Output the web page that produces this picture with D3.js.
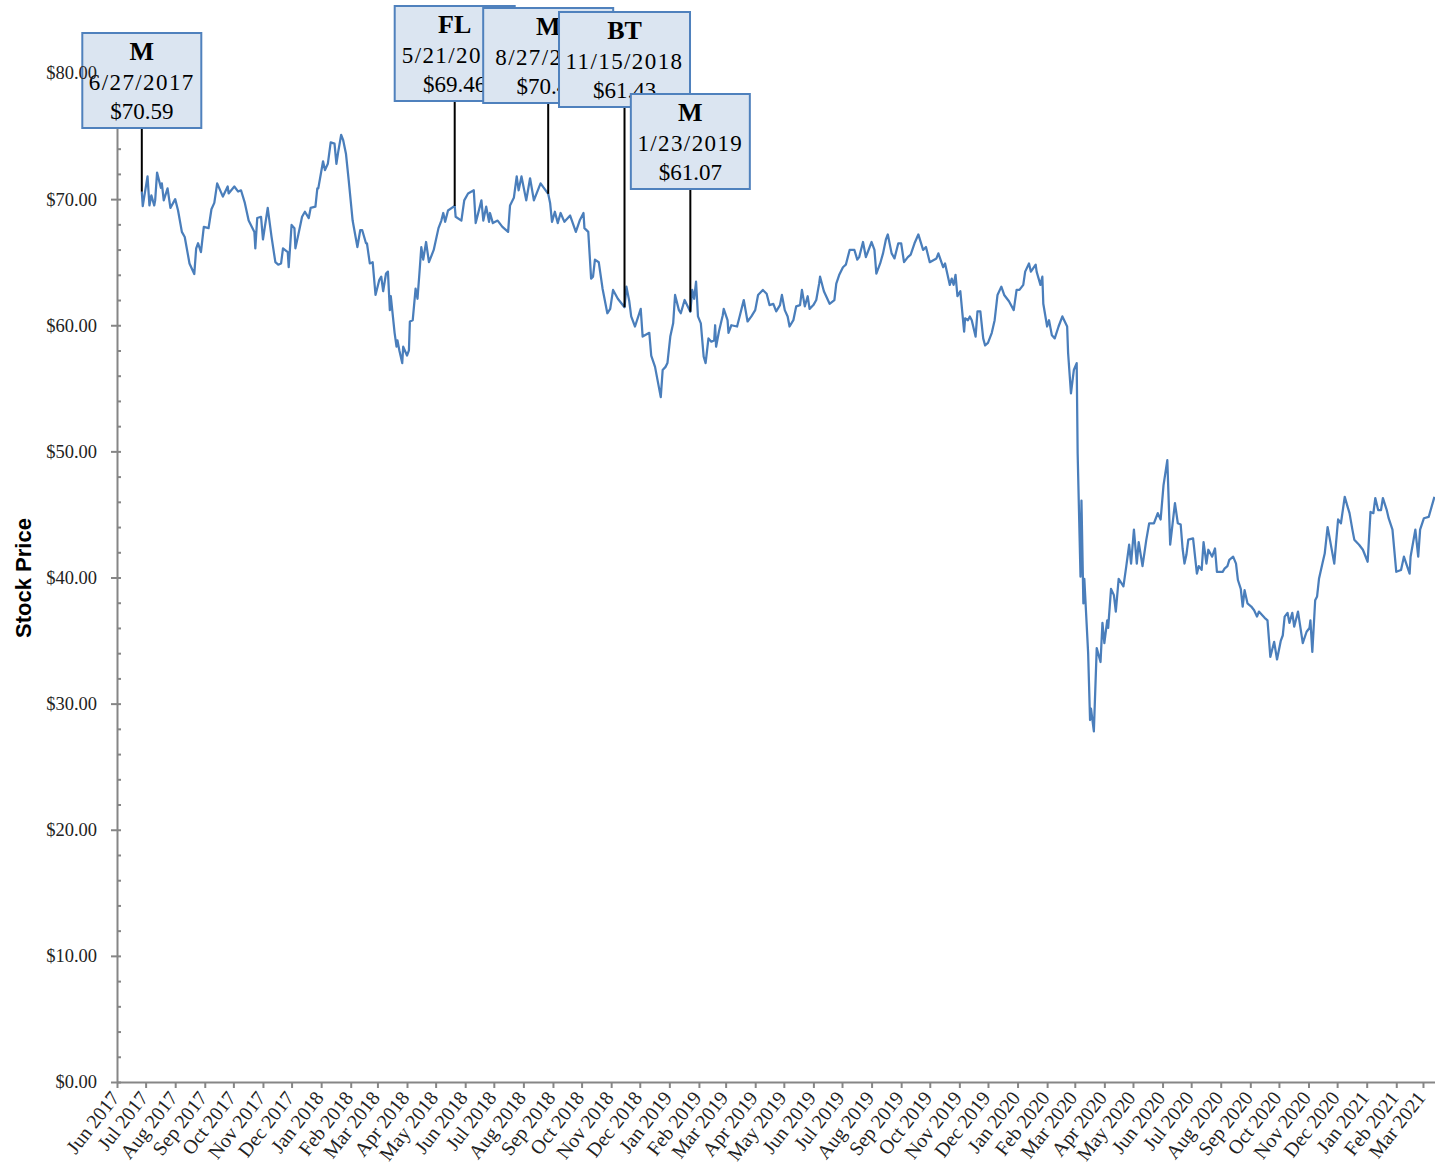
<!DOCTYPE html>
<html lang="en">
<head>
    <meta charset="UTF-8">
    <title>Stock Price</title>
    <style>
        body { margin: 0; background: #fff; }
    </style>
</head>
<body>
    <svg id="chart" width="1435" height="1168"></svg>
    <script src="https://cdn.jsdelivr.net/npm/d3@7/dist/d3.min.js"></script>
    <script>
        // closing prices
        const closeDates = [
            "2017-06-27","2017-06-28","2017-07-03","2017-07-05","2017-07-07","2017-07-10","2017-07-11","2017-07-13","2017-07-17","2017-07-18",
            "2017-07-20","2017-07-24","2017-07-27","2017-08-01","2017-08-04","2017-08-08","2017-08-11","2017-08-16","2017-08-21","2017-08-23",
            "2017-08-25","2017-08-28","2017-08-31","2017-09-05","2017-09-08","2017-09-11","2017-09-14","2017-09-20","2017-09-25","2017-09-26",
            "2017-10-02","2017-10-06","2017-10-09","2017-10-13","2017-10-17","2017-10-23","2017-10-24","2017-10-26","2017-10-30","2017-11-01",
            "2017-11-06","2017-11-10","2017-11-14","2017-11-17","2017-11-20","2017-11-22","2017-11-27","2017-11-28","2017-12-01","2017-12-04",
            "2017-12-05","2017-12-08","2017-12-12","2017-12-15","2017-12-19","2017-12-21","2017-12-26","2017-12-28","2017-12-29",
            "2018-01-03","2018-01-05","2018-01-08","2018-01-11","2018-01-15","2018-01-17","2018-01-19","2018-01-22","2018-01-24","2018-01-27",
            "2018-01-30","2018-02-03","2018-02-08","2018-02-11","2018-02-13","2018-02-17","2018-02-18","2018-02-21","2018-02-24","2018-02-27",
            "2018-03-03","2018-03-05","2018-03-07","2018-03-10","2018-03-12","2018-03-14","2018-03-15","2018-03-19","2018-03-21","2018-03-22",
            "2018-03-24","2018-03-27","2018-03-28","2018-04-01","2018-04-03","2018-04-04","2018-04-07","2018-04-10","2018-04-12","2018-04-14",
            "2018-04-16","2018-04-18","2018-04-21","2018-04-24","2018-04-29","2018-05-04","2018-05-07","2018-05-09","2018-05-11","2018-05-14",
            "2018-05-21","2018-05-22","2018-05-28","2018-05-31","2018-06-04","2018-06-10","2018-06-12","2018-06-18","2018-06-20","2018-06-23",
            "2018-06-26","2018-06-27","2018-06-30","2018-07-05","2018-07-10","2018-07-16","2018-07-18","2018-07-22","2018-07-25","2018-07-27",
            "2018-07-30","2018-08-04","2018-08-08","2018-08-12","2018-08-19","2018-08-27","2018-08-29","2018-08-31","2018-09-03","2018-09-06",
            "2018-09-09","2018-09-13","2018-09-19","2018-09-25","2018-09-29","2018-10-03","2018-10-04","2018-10-08","2018-10-11","2018-10-13",
            "2018-10-15","2018-10-19","2018-10-23","2018-10-28","2018-10-31","2018-11-03","2018-11-08","2018-11-15","2018-11-17","2018-11-20",
            "2018-11-22","2018-11-26","2018-12-02","2018-12-04","2018-12-11","2018-12-13","2018-12-17","2018-12-23","2018-12-25","2018-12-28",
            "2018-12-30",
            "2019-01-02","2019-01-05","2019-01-07","2019-01-11","2019-01-13","2019-01-17","2019-01-23","2019-01-25","2019-01-27","2019-01-29",
            "2019-01-31","2019-02-03","2019-02-06","2019-02-08","2019-02-11","2019-02-14","2019-02-17","2019-02-18","2019-02-19","2019-02-22",
            "2019-02-26","2019-02-27","2019-03-03","2019-03-04","2019-03-07","2019-03-13","2019-03-16","2019-03-20","2019-03-24","2019-03-28",
            "2019-04-01","2019-04-04","2019-04-09","2019-04-13","2019-04-16","2019-04-20","2019-04-23","2019-04-27","2019-04-29","2019-05-02",
            "2019-05-05","2019-05-07","2019-05-11","2019-05-14","2019-05-18","2019-05-20","2019-05-23","2019-05-26","2019-05-28","2019-06-01",
            "2019-06-04","2019-06-07","2019-06-08","2019-06-12","2019-06-18","2019-06-23","2019-06-25","2019-06-28","2019-07-02","2019-07-05",
            "2019-07-09","2019-07-14","2019-07-17","2019-07-19","2019-07-23","2019-07-26","2019-08-01","2019-08-04","2019-08-06","2019-08-10",
            "2019-08-13","2019-08-16","2019-08-18","2019-08-22","2019-08-25","2019-08-29","2019-09-01","2019-09-04","2019-09-08","2019-09-11",
            "2019-09-15","2019-09-19","2019-09-24","2019-09-27","2019-10-01","2019-10-08","2019-10-10","2019-10-15","2019-10-17","2019-10-22",
            "2019-10-24","2019-10-26","2019-10-28","2019-10-30","2019-11-02","2019-11-06","2019-11-07","2019-11-10","2019-11-12","2019-11-14",
            "2019-11-18","2019-11-20","2019-11-23","2019-11-26","2019-11-28","2019-12-01","2019-12-05","2019-12-08","2019-12-11","2019-12-15",
            "2019-12-18","2019-12-23","2019-12-28","2019-12-31",
            "2020-01-03","2020-01-07","2020-01-09","2020-01-13","2020-01-15","2020-01-20","2020-01-21","2020-01-25","2020-01-27","2020-01-28",
            "2020-02-01","2020-02-03","2020-02-06","2020-02-09","2020-02-13","2020-02-17","2020-02-22","2020-02-23","2020-02-26","2020-02-29",
            "2020-03-03","2020-03-04","2020-03-07","2020-03-08","2020-03-10","2020-03-11","2020-03-15","2020-03-17","2020-03-18","2020-03-21",
            "2020-03-24","2020-03-28","2020-03-30","2020-04-01","2020-04-04","2020-04-05","2020-04-08","2020-04-11","2020-04-13","2020-04-16",
            "2020-04-21","2020-04-24","2020-04-27","2020-04-29","2020-05-02","2020-05-05","2020-05-07","2020-05-11","2020-05-15","2020-05-18",
            "2020-05-23","2020-05-27","2020-05-30","2020-06-02","2020-06-06","2020-06-09","2020-06-14","2020-06-17","2020-06-20","2020-06-22",
            "2020-06-24","2020-06-26","2020-06-28","2020-07-03","2020-07-07","2020-07-09","2020-07-12","2020-07-14","2020-07-17","2020-07-19",
            "2020-07-23","2020-07-26","2020-07-28","2020-08-03","2020-08-05","2020-08-08","2020-08-10","2020-08-14","2020-08-17","2020-08-19",
            "2020-08-22","2020-08-24","2020-08-26","2020-08-29","2020-09-02","2020-09-05","2020-09-08","2020-09-10","2020-09-16","2020-09-19",
            "2020-09-22","2020-09-26","2020-09-29","2020-10-03","2020-10-05","2020-10-07","2020-10-10","2020-10-12","2020-10-15","2020-10-17",
            "2020-10-21","2020-10-26","2020-10-30","2020-11-02","2020-11-03","2020-11-05","2020-11-08","2020-11-10","2020-11-12","2020-11-16",
            "2020-11-18","2020-11-21","2020-11-23","2020-11-28","2020-12-02","2020-12-05","2020-12-09","2020-12-12","2020-12-14","2020-12-17",
            "2020-12-19","2020-12-24","2020-12-28",
            "2021-01-02","2021-01-05","2021-01-08","2021-01-10","2021-01-13","2021-01-16","2021-01-18","2021-01-22","2021-01-24","2021-01-28",
            "2021-02-01","2021-02-06","2021-02-09","2021-02-15","2021-02-16","2021-02-21","2021-02-24","2021-02-26","2021-03-02","2021-03-07",
            "2021-03-13"
        ];
        const closePrices = [
            70.59,69.45,71.8,69.5,70.3,69.5,69.9,72.1,70.9,71.25,
            69.9,70.85,69.3,70.0,69.1,67.4,67.0,64.9,64.06,66.1,
            66.5,65.8,67.8,67.7,69.2,69.7,71.25,70.2,71.0,70.45,
            71.0,70.6,70.7,69.7,68.3,67.4,66.1,68.5,68.6,66.8,
            69.3,67.0,65.0,64.8,64.9,66.1,65.8,64.6,67.95,67.7,
            66.1,67.15,68.6,69.0,68.5,69.3,69.4,70.85,70.85,
            73.0,72.3,72.8,74.5,74.4,72.8,73.8,75.1,74.7,73.6,
            71.4,68.3,66.2,67.55,67.55,66.5,66.5,64.9,65.0,62.4,
            63.6,63.85,62.7,64.1,64.25,61.2,62.3,59.4,58.3,58.8,
            58.0,57.0,58.3,57.6,58.0,60.3,60.4,62.9,62.1,64.1,
            66.2,65.2,66.6,65.0,65.97,67.7,68.3,68.9,68.2,69.1,
            69.46,68.6,68.3,69.9,70.45,70.7,68.1,69.9,68.3,69.4,
            68.2,68.9,68.1,68.3,67.8,67.4,69.5,70.1,71.8,70.7,
            71.8,69.9,71.65,69.9,71.25,70.42,69.7,68.2,69.0,68.1,
            68.9,68.2,68.7,67.4,68.3,68.9,67.7,67.4,63.7,63.85,
            65.2,65.0,62.9,60.95,61.3,62.8,62.1,61.43,63.06,61.9,
            60.7,59.9,61.3,59.1,59.4,57.6,56.7,54.3,56.45,56.7,
            57.0,
            59.1,60.15,62.4,61.2,60.95,62.0,61.07,62.8,62.1,63.45,
            60.7,60.15,57.5,57.0,58.96,58.7,58.8,60.0,58.3,59.5,
            60.8,61.3,60.4,59.4,60.0,59.9,60.8,62.0,60.3,60.7,
            61.2,62.4,62.8,62.5,61.6,61.7,61.1,61.6,62.4,61.2,
            60.7,59.9,60.4,61.5,61.6,62.8,61.5,62.3,61.3,61.6,
            62.0,63.3,63.85,62.7,61.7,62.0,63.3,63.98,64.6,64.8,
            65.97,65.97,65.2,65.4,66.6,65.4,66.6,65.97,64.1,64.9,
            65.7,66.8,67.2,65.7,65.3,66.5,66.5,65.0,65.4,65.6,
            66.5,67.2,65.97,66.2,65.0,65.3,65.7,64.6,64.9,63.2,
            63.7,63.2,64.0,62.3,62.7,59.5,60.55,60.4,60.7,60.4,
            59.1,61.1,61.1,58.96,58.4,58.6,59.4,60.4,62.4,63.06,
            62.4,61.9,61.2,62.8,
            62.8,63.2,64.25,64.9,64.25,64.8,64.25,63.2,63.85,61.7,
            59.9,60.4,59.2,58.96,59.9,60.7,59.9,57.8,54.6,56.45,
            57.0,49.85,40.06,46.1,37.95,39.9,34.0,28.7,29.6,27.8,
            34.4,33.3,36.4,34.8,36.6,36.0,39.1,38.6,37.3,39.9,
            39.3,40.9,42.6,41.1,43.8,41.1,42.8,40.9,43.0,44.3,
            44.3,45.1,44.6,47.3,49.3,42.6,45.9,44.3,44.2,42.3,
            41.1,41.8,43.0,43.1,40.3,40.9,40.6,42.8,41.1,42.2,
            41.65,42.3,40.45,40.45,40.7,40.9,41.4,41.65,41.1,39.8,
            39.1,37.7,39.0,37.95,37.7,37.4,36.9,37.3,36.8,36.6,
            33.7,34.9,33.5,35.0,35.4,36.9,37.2,36.4,37.2,36.1,
            37.3,34.8,35.7,36.0,36.6,34.1,38.2,38.5,39.9,41.25,
            41.9,44.0,43.2,41.1,44.6,44.3,46.4,45.6,45.1,43.8,
            43.0,42.6,42.2,
            41.25,45.2,45.1,46.3,45.35,45.35,46.3,45.35,44.7,43.8,
            40.45,40.6,41.65,40.3,41.65,43.8,41.65,43.8,44.7,44.8,
            46.4
        ];

        // annotated trades
        const calloutTickers = ["M", "FL", "M", "BT", "M"];
        const calloutDates = ["2017-06-27", "2018-05-21", "2018-08-27", "2018-11-15", "2019-01-23"];
        const calloutPrices = [70.59, 69.46, 70.42, 61.43, 61.07];

        const yTickValues = [0, 10, 20, 30, 40, 50, 60, 70, 80];
        const yMinorValues = [2, 4, 6, 8, 12, 14, 16, 18, 22, 24, 26, 28, 32, 34, 36, 38, 42, 44, 46, 48, 52, 54, 56, 58, 62, 64, 66, 68, 72, 74, 76, 78];
        const axisStart = "2017-06-01";
        const axisEnd = "2021-03-31";

        // callout box placement
        const calloutBoxTop = [33, 6, 8, 12, 94];
        const calloutBoxWidth = [119, 120, 130, 131, 119];
        const boxHeight = 95;

        const width = 1435, height = 1168;
        const margin = {top: 73, left: 117, bottom: 1082};
        const serif = "'Liberation Serif', 'Times New Roman', serif";

        const parse = d3.utcParse("%Y-%m-%d");
        const data = closeDates.map((d, i) => ({date: parse(d), price: closePrices[i]}));

        const x = d3.scaleUtc()
            .domain([parse(axisStart), parse(axisEnd)])
            .range([margin.left, 1451.6]);

        const y = d3.scaleLinear()
            .domain([0, 80])
            .range([margin.bottom, margin.top]);

        const svg = d3.select("#chart")
            .attr("viewBox", [0, 0, width, height]);

        svg.append("rect")
            .attr("width", width)
            .attr("height", height)
            .attr("fill", "#fff");

        // x axis
        const months = d3.utcMonth.range(parse(axisStart), parse("2021-03-02"));
        svg.append("g")
            .attr("transform", `translate(0,${margin.bottom})`)
            .call(d3.axisBottom(x)
                .tickValues(months)
                .tickFormat(d3.utcFormat("%b %Y"))
                .tickSize(6)
                .tickSizeOuter(0))
            .call(g => g.select(".domain").attr("stroke", "#868686").attr("stroke-width", 2))
            .call(g => g.selectAll(".tick line").attr("stroke", "#868686").attr("stroke-width", 2))
            .call(g => g.selectAll(".tick text")
                .attr("font-family", serif)
                .attr("font-size", 20)
                .attr("fill", "#222")
                .attr("text-anchor", "end")
                .attr("x", 0)
                .attr("y", 0)
                .attr("dy", 0)
                .attr("transform", "translate(3,16) rotate(-52)"));

        // y axis
        const yAxisG = svg.append("g")
            .attr("transform", `translate(${margin.left},0)`)
            .call(d3.axisLeft(y)
                .tickValues(yTickValues)
                .tickFormat(d3.format("$.2f"))
                .tickSize(6)
                .tickPadding(14)
                .tickSizeOuter(0))
            .call(g => g.select(".domain").attr("stroke", "#868686").attr("stroke-width", 2))
            .call(g => g.selectAll(".tick line").attr("stroke", "#868686").attr("stroke-width", 2).attr("x2", -6).attr("x1", 4))
            .call(g => g.selectAll(".tick text")
                .attr("font-family", serif)
                .attr("font-size", 18.5)
                .attr("text-anchor", "end")
                .attr("fill", "#222"));

        svg.append("g")
            .attr("transform", `translate(${margin.left},0)`)
            .call(d3.axisRight(y).tickValues(yMinorValues).tickSize(4).tickFormat(""))
            .call(g => g.select(".domain").remove())
            .call(g => g.selectAll(".tick line").attr("stroke", "#868686").attr("stroke-width", 2));

        svg.append("text")
            .attr("transform", "translate(31,578) rotate(-90)")
            .attr("text-anchor", "middle")
            .attr("font-family", "'Liberation Sans', Arial, sans-serif")
            .attr("font-weight", "bold")
            .attr("font-size", 22)
            .attr("fill", "#000")
            .text("Stock Price");

        // price line
        const line = d3.line()
            .x(d => x(d.date))
            .y(d => y(d.price));

        svg.append("path")
            .datum(data)
            .attr("fill", "none")
            .attr("stroke", "#4a7ebb")
            .attr("stroke-width", 2.25)
            .attr("stroke-linejoin", "round")
            .attr("d", line);

        // callouts
        const fmtDate = d3.utcFormat("%-m/%-d/%Y");
        const fmtPrice = d3.format("$.2f");

        const callouts = svg.append("g")
            .selectAll("g")
            .data(calloutTickers.map((t, i) => ({
                ticker: t,
                date: parse(calloutDates[i]),
                price: calloutPrices[i],
                top: calloutBoxTop[i],
                w: calloutBoxWidth[i]
            })))
            .join("g");

        callouts.append("line")
            .attr("x1", d => x(d.date))
            .attr("x2", d => x(d.date))
            .attr("y1", d => d.top + boxHeight)
            .attr("y2", d => y(d.price))
            .attr("stroke", "#000")
            .attr("stroke-width", 2);

        callouts.append("rect")
            .attr("x", d => x(d.date) - d.w / 2)
            .attr("y", d => d.top)
            .attr("width", d => d.w)
            .attr("height", boxHeight)
            .attr("fill", "#dbe5f1")
            .attr("stroke", "#4f81bd")
            .attr("stroke-width", 2);

        const txt = callouts.append("text")
            .attr("text-anchor", "middle")
            .attr("font-family", serif)
            .attr("fill", "#000");

        txt.append("tspan")
            .attr("x", d => x(d.date))
            .attr("y", d => d.top + 27)
            .attr("font-weight", "bold")
            .attr("font-size", 26)
            .text(d => d.ticker);

        txt.append("tspan")
            .attr("x", d => x(d.date))
            .attr("y", d => d.top + 57)
            .attr("font-size", 23)
            .attr("letter-spacing", 1.4)
            .text(d => fmtDate(d.date));

        txt.append("tspan")
            .attr("x", d => x(d.date))
            .attr("y", d => d.top + 86)
            .attr("font-size", 23)
            .text(d => fmtPrice(d.price));

        // y labels sit on top of the callout boxes
        const labelLayer = svg.append("g")
            .attr("transform", `translate(${margin.left},0)`);
        yAxisG.selectAll(".tick").each(function () {
            const tick = d3.select(this);
            labelLayer.append(() => tick.select("text").node())
                .attr("transform", tick.attr("transform"));
        });
    </script>
</body>
</html>
